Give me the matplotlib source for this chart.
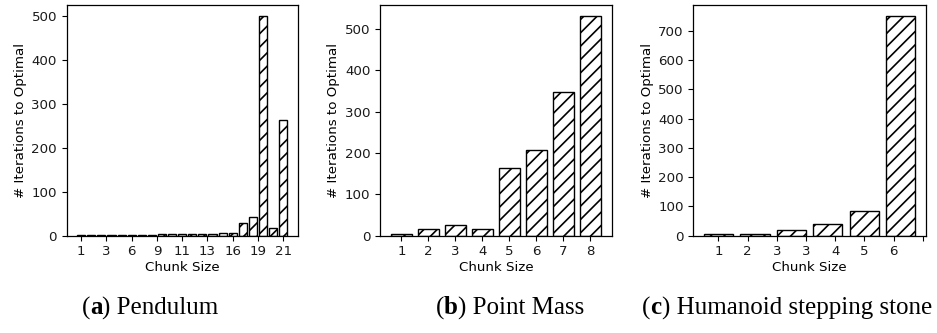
import matplotlib
matplotlib.use("Agg")
import matplotlib.pyplot as plt
from matplotlib.offsetbox import TextArea, HPacker, AnchoredOffsetbox
import numpy as np

# Pendulum
pend_values = [2, 2, 2, 2, 2, 2, 2, 2, 4, 4, 4, 4, 4, 4, 6, 6, 30, 42, 500, 18, 263]
pend_tick_pos = [0, 2.5, 5, 7.5, 10, 12.5, 15, 17.5, 20]
pend_tick_labels = ["1", "3", "6", "9", "11", "13", "16", "19", "21"]

# Point Mass
pm_values = [5, 17, 27, 17, 164, 207, 347, 531]
pm_tick_pos = [0, 1, 2, 3, 4, 5, 6, 7]
pm_tick_labels = ["1", "2", "3", "4", "5", "6", "7", "8"]

# Humanoid stepping stone
hum_values = [7, 7, 19, 40, 84, 750]
hum_tick_pos = [0, 0.8, 1.6, 2.4, 3.2, 4.0, 4.8, 5.6]
hum_tick_labels = ["1", "2", "3", "3", "4", "5", "6", ""]

captions = [("a", "Pendulum"), ("b", "Point Mass"), ("c", "Humanoid stepping stone")]

DPI = 120
S = 100 / DPI  # scale so sizes match a 100-dpi layout
W, H = 937, 333
plt.rcParams['hatch.linewidth'] = 1.0
plt.rcParams['text.color'] = '#1a1a1a'
plt.rcParams['xtick.labelcolor'] = '#1a1a1a'
plt.rcParams['ytick.labelcolor'] = '#1a1a1a'
plt.rcParams['xtick.major.size'] = 3.5 * S
plt.rcParams['ytick.major.size'] = 3.5 * S
plt.rcParams['xtick.major.width'] = 0.8 * S
plt.rcParams['ytick.major.width'] = 0.8 * S
plt.rcParams['xtick.major.pad'] = 3.5 * S
plt.rcParams['ytick.major.pad'] = 3.5 * S
plt.rcParams['axes.linewidth'] = 0.9 * S
fig = plt.figure(figsize=(W / DPI, H / DPI), dpi=DPI)

boxes = [(66.7, 297.7), (380.0, 611.7), (693.3, 926.0)]
top, bottom = 5, 235.7
datasets = [
    (pend_values, pend_tick_pos, pend_tick_labels),
    (pm_values, pm_tick_pos, pm_tick_labels),
    (hum_values, hum_tick_pos, hum_tick_labels),
]
fs = 9.6 * S
for (l, r), (vals, tpos, tlab) in zip(boxes, datasets):
    ax = fig.add_axes([l / W, 1 - bottom / H, (r - l) / W, (bottom - top) / H])
    x = np.arange(len(vals))
    ax.bar(x, vals, width=0.8, color="white", edgecolor="black", hatch="///", linewidth=1.0 * S)
    ax.set_xticks(tpos)
    ax.set_xticklabels(tlab, fontsize=fs)
    ax.tick_params(axis="y", labelsize=fs)
    ax.set_xlabel("Chunk Size", fontsize=fs, labelpad=2 * S)
    ax.set_ylabel("# Iterations to Optimal", fontsize=fs, labelpad=3 * S)

cap_centers = [150, 510, 787]
cfs = 18 * S
for cx, (letter, name) in zip(cap_centers, captions):
    t1 = TextArea("(", textprops=dict(family="Liberation Serif", fontsize=cfs, color="black"))
    t2 = TextArea(letter, textprops=dict(family="Liberation Serif", fontsize=cfs, weight="bold", color="black"))
    t3 = TextArea(") " + name, textprops=dict(family="Liberation Serif", fontsize=cfs, color="black"))
    box = HPacker(children=[t1, t2, t3], align="baseline", pad=0, sep=0)
    ab = AnchoredOffsetbox(loc="center", child=box, pad=0, frameon=False,
                           bbox_to_anchor=(cx / W, 1 - 308 / H), bbox_transform=fig.transFigure,
                           borderpad=0)
    fig.add_artist(ab)

fig.savefig("out.png", dpi=DPI)
